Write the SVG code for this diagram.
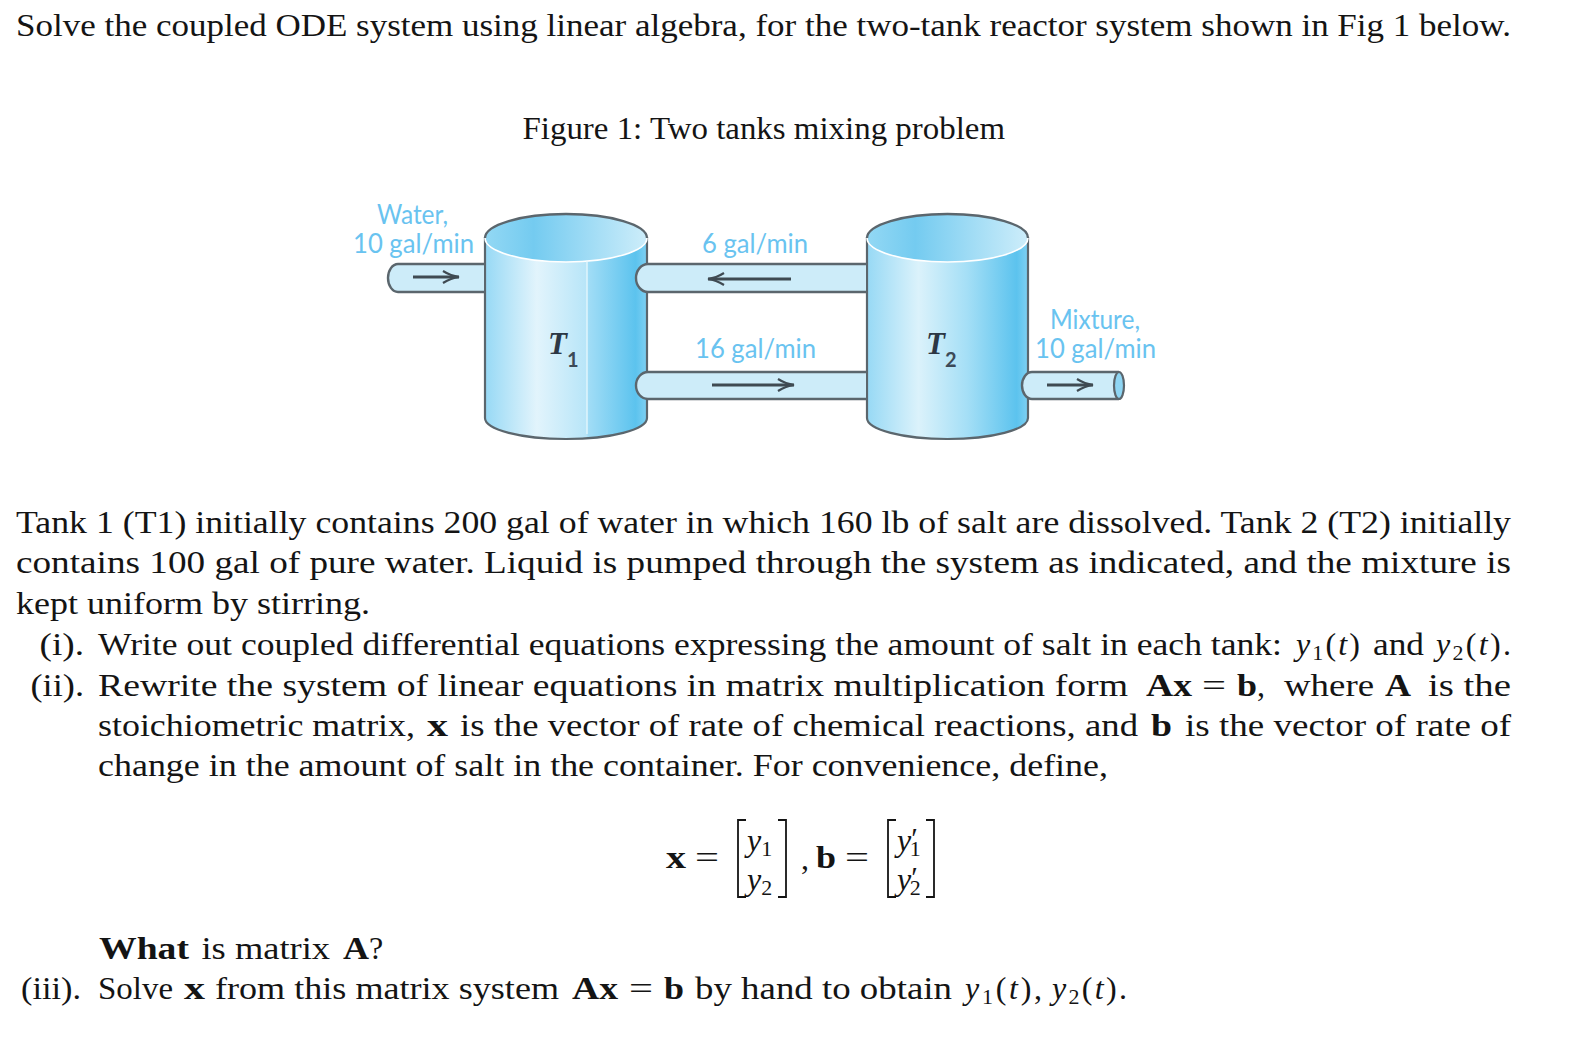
<svg xmlns="http://www.w3.org/2000/svg" width="1588" height="1060" viewBox="0 0 1588 1060">
<style>
text{font-family:"Liberation Serif","DejaVu Serif",serif;font-size:32px;fill:#141414}
.b{font-weight:bold}
.i{font-style:italic}
.s{font-size:22px}
.p{font-size:30px}
.f{font-family:"Lato","Open Sans",sans-serif;font-size:26px;fill:#69c3f0}
.tl{font-style:italic;font-weight:bold;font-size:31px;fill:#2c3744}
.ts{font-family:"Lato","Open Sans",sans-serif;font-size:20px;font-weight:bold;fill:#3c4a58}
.body{stroke:#5b666d;stroke-width:2.2}
.rim{fill:none;stroke:#fff;stroke-width:1.6}
.pipe{fill:#cdecf9;stroke:none}
.edge{fill:none;stroke:#5b666d;stroke-width:2.4}
.flow{fill:none;stroke:#3f4a52;stroke-width:3;marker-end:url(#arrow)}
.br{fill:none;stroke:#141414;stroke-width:1.8}
</style>
<defs>
<linearGradient id="g1" x1="0" x2="1" y1="0" y2="0">
<stop offset="0" stop-color="#97d9f5"/><stop offset=".32" stop-color="#e2f4fc"/><stop offset=".63" stop-color="#b7e5f8"/><stop offset=".635" stop-color="#a2ddf6"/><stop offset=".93" stop-color="#5cc3ee"/><stop offset="1" stop-color="#7fd0f2"/>
</linearGradient>
<linearGradient id="g2" x1="0" x2="1" y1="0" y2="0">
<stop offset="0" stop-color="#97d9f5"/><stop offset=".32" stop-color="#dbf2fb"/><stop offset=".62" stop-color="#a5dff6"/><stop offset=".93" stop-color="#5cc3ee"/><stop offset="1" stop-color="#7fd0f2"/>
</linearGradient>
<linearGradient id="top" x1="0" x2="1" y1="0" y2="0">
<stop offset="0" stop-color="#93d8f4"/><stop offset=".3" stop-color="#74cbf0"/><stop offset="1" stop-color="#cdedfa"/>
</linearGradient>
<marker id="arrow" markerUnits="userSpaceOnUse" markerWidth="26" markerHeight="16" refX="22" refY="8" orient="auto">
<path d="M6 2Q14 7 22 8Q14 9 6 14" fill="none" stroke="#3f4a52" stroke-width="2.2"/>
</marker>
</defs>

<g id="problem-text">
<text x="16" y="36" textLength="1495" lengthAdjust="spacingAndGlyphs">Solve the coupled ODE system using linear algebra, for the two-tank reactor system shown in Fig 1 below.</text>
<text x="522.5" y="139" textLength="482.5" lengthAdjust="spacingAndGlyphs">Figure 1: Two tanks mixing problem</text>
<text x="16" y="533" textLength="1495" lengthAdjust="spacingAndGlyphs">Tank 1 (T1) initially contains 200 gal of water in which 160 lb of salt are dissolved. Tank 2 (T2) initially</text>
<text x="16" y="573" textLength="1495" lengthAdjust="spacingAndGlyphs">contains 100 gal of pure water. Liquid is pumped through the system as indicated, and the mixture is</text>
<text x="16" y="614" textLength="354" lengthAdjust="spacingAndGlyphs">kept uniform by stirring.</text>

<text x="39.5" y="655" textLength="44.5" lengthAdjust="spacingAndGlyphs">(i).</text>
<text x="98" y="655" textLength="1184" lengthAdjust="spacingAndGlyphs">Write out coupled differential equations expressing the amount of salt in each tank:</text>
<text x="1296" y="655" textLength="64"><tspan class="i">y</tspan><tspan class="s" dy="5">1</tspan><tspan dy="-5">(</tspan><tspan class="i">t</tspan>)</text>
<text x="1373" y="655" textLength="51" lengthAdjust="spacingAndGlyphs">and</text>
<text x="1436" y="655" textLength="75"><tspan class="i">y</tspan><tspan class="s" dy="5">2</tspan><tspan dy="-5">(</tspan><tspan class="i">t</tspan>).</text>

<text x="30.5" y="696" textLength="53.5" lengthAdjust="spacingAndGlyphs">(ii).</text>
<text x="98" y="696" textLength="1030" lengthAdjust="spacingAndGlyphs">Rewrite the system of linear equations in matrix multiplication form</text>
<text class="b" x="1146" y="696" textLength="46" lengthAdjust="spacingAndGlyphs">Ax</text>
<text x="1202" y="696" textLength="24" lengthAdjust="spacingAndGlyphs">=</text>
<text class="b" x="1237" y="696" textLength="20" lengthAdjust="spacingAndGlyphs">b</text>
<text x="1257" y="696">,</text>
<text x="1284" y="696" textLength="90" lengthAdjust="spacingAndGlyphs">where</text>
<text class="b" x="1385" y="696" textLength="26" lengthAdjust="spacingAndGlyphs">A</text>
<text x="1428" y="696" textLength="83" lengthAdjust="spacingAndGlyphs">is the</text>

<text x="98" y="736" textLength="317" lengthAdjust="spacingAndGlyphs">stoichiometric matrix,</text>
<text class="b" x="427" y="736" textLength="21" lengthAdjust="spacingAndGlyphs">x</text>
<text x="460" y="736" textLength="678" lengthAdjust="spacingAndGlyphs">is the vector of rate of chemical reactions, and</text>
<text class="b" x="1151" y="736" textLength="21" lengthAdjust="spacingAndGlyphs">b</text>
<text x="1185" y="736" textLength="326" lengthAdjust="spacingAndGlyphs">is the vector of rate of</text>
<text x="98" y="776" textLength="1010" lengthAdjust="spacingAndGlyphs">change in the amount of salt in the container. For convenience, define,</text>

<text class="b" x="99" y="959" textLength="90" lengthAdjust="spacingAndGlyphs">What</text>
<text x="201.5" y="959" textLength="128.5" lengthAdjust="spacingAndGlyphs">is matrix</text>
<text class="b" x="343" y="959" textLength="26" lengthAdjust="spacingAndGlyphs">A</text>
<text x="369" y="959">?</text>

<text x="21" y="999" textLength="60" lengthAdjust="spacingAndGlyphs">(iii).</text>
<text x="98" y="999" textLength="75" lengthAdjust="spacingAndGlyphs">Solve</text>
<text class="b" x="184" y="999" textLength="21" lengthAdjust="spacingAndGlyphs">x</text>
<text x="215" y="999" textLength="344" lengthAdjust="spacingAndGlyphs">from this matrix system</text>
<text class="b" x="572" y="999" textLength="46" lengthAdjust="spacingAndGlyphs">Ax</text>
<text x="629" y="999" textLength="24" lengthAdjust="spacingAndGlyphs">=</text>
<text class="b" x="664" y="999" textLength="20" lengthAdjust="spacingAndGlyphs">b</text>
<text x="695" y="999" textLength="257" lengthAdjust="spacingAndGlyphs">by hand to obtain</text>
<text x="965" y="999" textLength="77"><tspan class="i">y</tspan><tspan class="s" dy="5">1</tspan><tspan dy="-5">(</tspan><tspan class="i">t</tspan>),</text>
<text x="1052" y="999" textLength="75"><tspan class="i">y</tspan><tspan class="s" dy="5">2</tspan><tspan dy="-5">(</tspan><tspan class="i">t</tspan>).</text>
</g>

<g id="equation">
<text class="b" x="666" y="868" textLength="20" lengthAdjust="spacingAndGlyphs">x</text>
<text x="695" y="868" textLength="24" lengthAdjust="spacingAndGlyphs">=</text>
<path class="br" d="M746 820H738V897H746M778 820H786V897H778"/>
<text x="747" y="851"><tspan class="i">y</tspan><tspan class="s" dy="5">1</tspan></text>
<text x="747" y="890"><tspan class="i">y</tspan><tspan class="s" dy="5">2</tspan></text>
<text x="801" y="869">,</text>
<text class="b" x="816" y="868" textLength="20" lengthAdjust="spacingAndGlyphs">b</text>
<text x="845" y="868" textLength="24" lengthAdjust="spacingAndGlyphs">=</text>
<path class="br" d="M896 820H888V897H896M926 820H934V897H926"/>
<text x="897" y="851"><tspan class="i">y</tspan><tspan class="p" dy="-3">′</tspan><tspan class="s" dx="-8" dy="8">1</tspan></text>
<text x="897" y="890"><tspan class="i">y</tspan><tspan class="p" dy="-3">′</tspan><tspan class="s" dx="-8" dy="8">2</tspan></text>
</g>

<g id="tank-1">
<path class="body" fill="url(#g1)" d="M485 238V418A81 21 0 0 0 647 418V238Z"/>
<ellipse cx="566" cy="238" rx="81" ry="24" fill="url(#top)"/>
<path class="rim" d="M485 238A81 24 0 0 0 647 238"/>
<path class="edge" d="M485 238A81 24 0 0 1 647 238"/>
<path d="M587 261V434" stroke="#eaf8fe" stroke-width="1.2"/>
<text class="tl" x="548" y="354">T</text>
<text class="ts" x="567" y="367">1</text>
</g>

<g id="tank-2">
<path class="body" fill="url(#g2)" d="M867 238V418A80.5 21 0 0 0 1028 418V238Z"/>
<ellipse cx="947.5" cy="238" rx="80.5" ry="24" fill="url(#top)"/>
<path class="rim" d="M867 238A80.5 24 0 0 0 1028 238"/>
<path class="edge" d="M867 238A80.5 24 0 0 1 1028 238"/>
<text class="tl" x="926" y="354">T</text>
<text class="ts" x="945" y="367">2</text>
</g>

<g id="connectors">
<path class="pipe" d="M484 264H398A10 14 0 0 0 398 292H484Z"/>
<path class="edge" d="M484 264H398A10 14 0 0 0 398 292H484"/>
<path class="flow" d="M413 277H459"/>

<path class="pipe" d="M866 264H648A12 14 0 0 0 648 292H866Z"/>
<path class="edge" d="M866 264H648A12 14 0 0 0 648 292H866"/>
<path class="flow" d="M791 279H708"/>

<path class="pipe" d="M866 372H648A12 13.5 0 0 0 648 399H866Z"/>
<path class="edge" d="M866 372H648A12 13.5 0 0 0 648 399H866"/>
<path class="flow" d="M712 385H794"/>

<path class="pipe" d="M1119 372H1032A10 13.5 0 0 0 1032 399H1119Z"/>
<path class="edge" d="M1119 372H1032A10 13.5 0 0 0 1032 399H1119"/>
<ellipse cx="1119" cy="385.5" rx="5" ry="13.5" fill="#8fd6f4" stroke="#5b666d" stroke-width="2.2"/>
<path class="flow" d="M1047 385H1093"/>
</g>

<g id="flow-labels">
<text class="f" x="377" y="224" textLength="71" lengthAdjust="spacingAndGlyphs">Water,</text>
<text class="f" x="353" y="253" textLength="121" lengthAdjust="spacingAndGlyphs">10 gal/min</text>
<text class="f" x="702" y="253" textLength="106" lengthAdjust="spacingAndGlyphs">6 gal/min</text>
<text class="f" x="695" y="358" textLength="121" lengthAdjust="spacingAndGlyphs">16 gal/min</text>
<text class="f" x="1050" y="329" textLength="90" lengthAdjust="spacingAndGlyphs">Mixture,</text>
<text class="f" x="1035" y="358" textLength="121" lengthAdjust="spacingAndGlyphs">10 gal/min</text>
</g>
</svg>
